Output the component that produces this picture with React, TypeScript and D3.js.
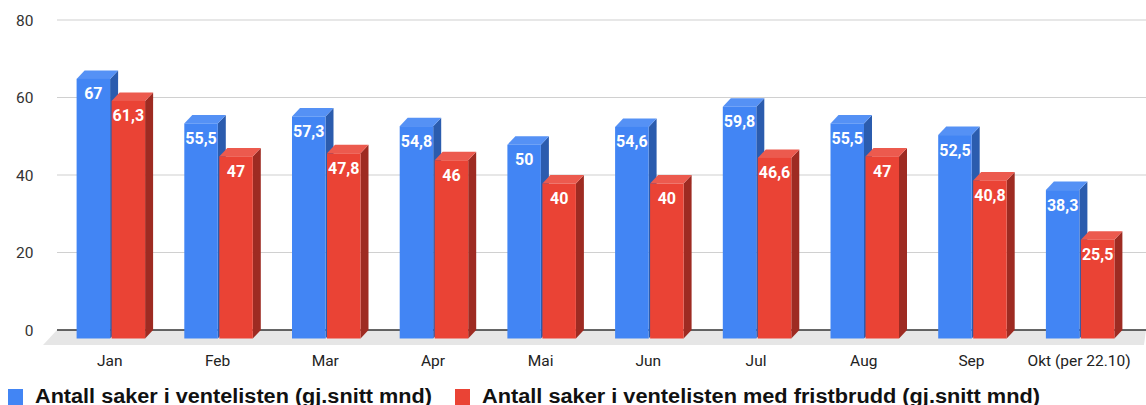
import React from "react";
import * as d3 from "d3";

const categories = ["Jan", "Feb", "Mar", "Apr", "Mai", "Jun", "Jul", "Aug", "Sep", "Okt (per 22.10)"];
const seriesTotal = [67, 55.5, 57.3, 54.8, 50, 54.6, 59.8, 55.5, 52.5, 38.3];
const seriesBreach = [61.3, 47, 47.8, 46, 40, 40, 46.6, 47, 40.8, 25.5];
const yTicks = [0, 20, 40, 60, 80];
const legendLabels = [
  "Antall saker i ventelisten (gj.snitt mnd)",
  "Antall saker i ventelisten med fristbrudd (gj.snitt mnd)",
];

const W = 1146;
const H = 405;
const DX = 8; // depth x
const DY = 8.5; // depth y

const colors = [
  { front: "#4285F4", side: "#2B5CAE", top: "#5591F5" },
  { front: "#EA4335", side: "#9E2B22", top: "#EC5A4E" },
];

const fmt = (v: number) => String(v).replace(".", ",");

export default function App() {
  const y = d3.scaleLinear().domain([0, 80]).range([330, 20]);
  const x = d3.scaleBand<string>().domain(categories).range([57, 1134]).padding(0);
  const barW = 33.5;
  const gap = 1.5;
  const series = [seriesTotal, seriesBreach];

  const bars: React.ReactNode[] = [];
  categories.forEach((c, i) => {
    const center = (x(c) as number) + x.bandwidth() / 2;
    series.forEach((s, k) => {
      const v = s[i];
      const col = colors[k];
      const fx0 = k === 0 ? center - gap / 2 - barW : center + gap / 2;
      const fx1 = fx0 + barW;
      const fyTop = y(v) + DY;
      const fyBot = y(0) + DY;
      bars.push(
        <g key={`${i}-${k}`}>
          <polygon
            points={`${fx1},${fyTop} ${fx1 + DX},${fyTop - DY} ${fx1 + DX},${fyBot - DY} ${fx1},${fyBot}`}
            fill={col.side}
          />
          <polygon
            points={`${fx0},${fyTop} ${fx0 + DX},${fyTop - DY} ${fx1 + DX},${fyTop - DY} ${fx1},${fyTop}`}
            fill={col.top}
          />
          <rect x={fx0} y={fyTop} width={barW} height={fyBot - fyTop} fill={col.front} />
          <text
            x={(fx0 + fx1) / 2}
            y={fyTop + 20.5}
            textAnchor="middle"
            fill="#fff"
            fontFamily="Roboto, Arial, sans-serif"
            fontWeight="bold"
            fontSize={16}
          >
            {fmt(v)}
          </text>
        </g>
      );
    });
  });

  return (
    <svg
      width={W}
      height={H}
      style={{ position: "absolute", left: 0, top: 0, background: "#fff" }}
    >
      <rect x={0} y={0} width={W} height={H} fill="#fff" />
      {yTicks.map((t) => (
        <g key={t}>
          {t !== 0 && <line x1={57} x2={W} y1={y(t)} y2={y(t)} stroke="#d0d0d0" strokeWidth={1.2} />}
          <text
            x={33.5}
            y={y(t) + 5.5}
            textAnchor="end"
            fill="#333"
            fontFamily="Roboto, Arial, sans-serif"
            fontSize={15.5}
          >
            {t}
          </text>
        </g>
      ))}
      <polygon points={`57,${y(0)} ${W},${y(0)} ${W - 2},${y(0) + 15} 43,${y(0) + 15}`} fill="#e6e6e6" />
      <line x1={57} x2={W} y1={y(0)} y2={y(0)} stroke="#333" strokeWidth={1.3} />
      {bars}
      {categories.map((c) => (
        <text
          key={c}
          x={(x(c) as number) + x.bandwidth() / 2 - 1}
          y={365.5}
          textAnchor="middle"
          fill="#222"
          fontFamily="Roboto, Arial, sans-serif"
          fontSize={15.5}
        >
          {c}
        </text>
      ))}
      <rect x={8} y={389} width={15} height={16} fill={colors[0].front} />
      <text
        x={35}
        y={403}
        fill="#111"
        fontFamily="'Liberation Sans', Arial, sans-serif"
        fontWeight="bold"
        fontSize={20}
        textLength={397}
        lengthAdjust="spacingAndGlyphs"
      >
        {legendLabels[0]}
      </text>
      <rect x={455} y={389} width={15} height={16} fill={colors[1].front} />
      <text
        x={482}
        y={403}
        fill="#111"
        fontFamily="'Liberation Sans', Arial, sans-serif"
        fontWeight="bold"
        fontSize={20}
        textLength={558}
        lengthAdjust="spacingAndGlyphs"
      >
        {legendLabels[1]}
      </text>
    </svg>
  );
}
